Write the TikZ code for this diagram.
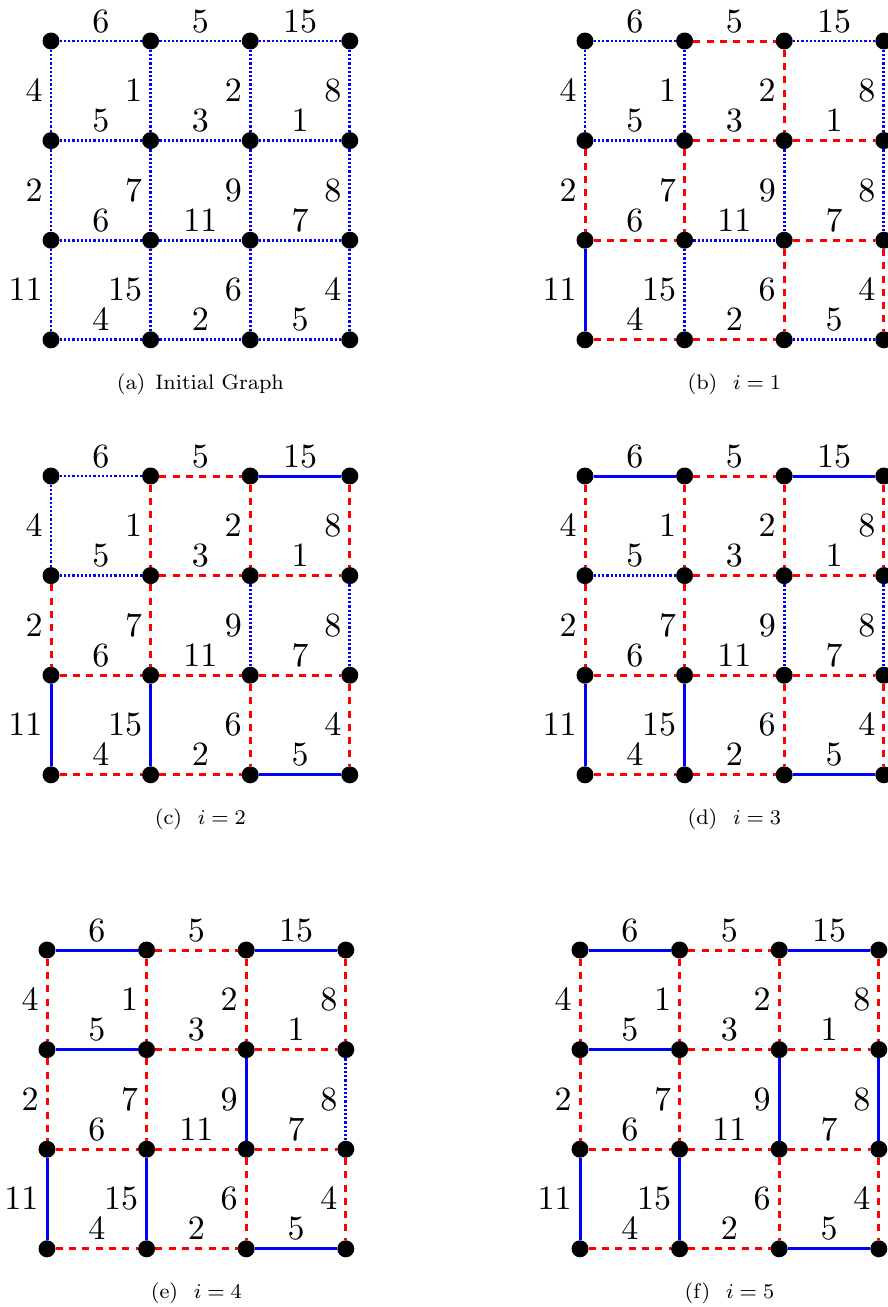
\documentclass[tikz,border=0pt]{standalone}
\font\labfont=cmr10 at 34pt
\font\capfont=cmr8 at 21pt
\font\capmi=cmmi8 at 21pt
\tikzset{
  vtx/.style={circle, fill=black, minimum size=17pt, inner sep=0pt},
  pdot/.style={blue, line width=2.8pt, dash pattern=on 2.2pt off 2pt},
  pred/.style={red, line width=3pt, dash pattern=on 7pt off 6.3pt},
  psol/.style={blue, line width=3pt},
  wlab/.style={inner sep=0pt, text=black, font=\labfont},
  captxt/.style={inner sep=0pt, text=black, font=\capfont, anchor=base}
}
\newcommand\gridpanel[6]{%
  \foreach \r in {0,...,3}{
    \foreach \c in {0,...,3}{
      \node[vtx] (#1-\r-\c) at ({#2+\c*99.6},{#3+\r*99.6}) {};
    }
  }
  \foreach \s [count=\i from 0] in {#4}{
    \pgfmathtruncatemacro\rr{\i/3}
    \pgfmathtruncatemacro\cc{mod(\i,3)}
    \pgfmathtruncatemacro\cn{\cc+1}
    \pgfmathtruncatemacro\w{{6,5,15,5,3,1,6,11,7,4,2,5}[\i]}
    \draw[\s] (#1-\rr-\cc) -- (#1-\rr-\cn) node[wlab, midway, above=7.5pt] {\w};
  }
  \foreach \s [count=\i from 0] in {#5}{
    \pgfmathtruncatemacro\rr{\i/4}
    \pgfmathtruncatemacro\rn{\rr+1}
    \pgfmathtruncatemacro\cc{mod(\i,4)}
    \pgfmathtruncatemacro\w{{4,1,2,8,2,7,9,8,11,15,6,4}[\i]}
    \draw[\s] (#1-\rr-\cc) -- (#1-\rn-\cc) node[wlab, midway, left=7pt] {\w};
  }
  \node[captxt] (#1-cap) at ({#2+1.5*99.6},{#3+3*99.6+50}) {#6};
}
\newcommand\icap[2]{(#1)\hspace{0.7em}{\capmi i}\hspace{0.27em}=\hspace{0.27em}#2}
\begin{document}
\begin{tikzpicture}[x=1pt,y=-1pt]
\useasboundingbox (0,0) rectangle (888,1307);
\gridpanel{a}{51}{41}
  {pdot,pdot,pdot, pdot,pdot,pdot, pdot,pdot,pdot, pdot,pdot,pdot}
  {pdot,pdot,pdot,pdot, pdot,pdot,pdot,pdot, pdot,pdot,pdot,pdot}
  {(a)\hspace{0.45em}Initial Graph}
\gridpanel{b}{585}{41}
  {pdot,pred,pdot, pdot,pred,pred, pred,pdot,pred, pred,pred,pdot}
  {pdot,pdot,pred,pdot, pred,pred,pdot,pdot, psol,pdot,pred,pred}
  {\icap{b}{1}}
\gridpanel{c}{51}{476}
  {pdot,pred,psol, pdot,pred,pred, pred,pred,pred, pred,pred,psol}
  {pdot,pred,pred,pred, pred,pred,pdot,pdot, psol,psol,pred,pred}
  {\icap{c}{2}}
\gridpanel{d}{585}{476}
  {psol,pred,psol, pdot,pred,pred, pred,pred,pred, pred,pred,psol}
  {pred,pred,pred,pred, pred,pred,pdot,pdot, psol,psol,pred,pred}
  {\icap{d}{3}}
\gridpanel{e}{47}{950}
  {psol,pred,psol, psol,pred,pred, pred,pred,pred, pred,pred,psol}
  {pred,pred,pred,pred, pred,pred,psol,pdot, psol,psol,pred,pred}
  {\icap{e}{4}}
\gridpanel{f}{580}{950}
  {psol,pred,psol, psol,pred,pred, pred,pred,pred, pred,pred,psol}
  {pred,pred,pred,pred, pred,pred,psol,psol, psol,psol,pred,pred}
  {\icap{f}{5}}
\end{tikzpicture}
\end{document}
